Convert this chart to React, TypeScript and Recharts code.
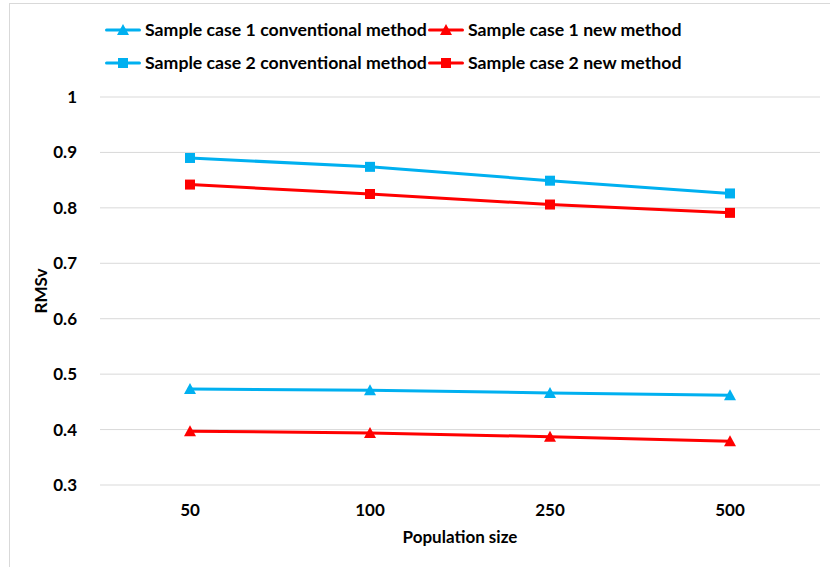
import { LineChart, Line, XAxis, YAxis, CartesianGrid, Label } from "recharts";

const populations = ["50", "100", "250", "500"];
const case1Conventional = [0.473, 0.471, 0.466, 0.462];
const case1New = [0.397, 0.394, 0.387, 0.379];
const case2Conventional = [0.89, 0.874, 0.849, 0.826];
const case2New = [0.842, 0.825, 0.806, 0.791];
const yTicks = [0.3, 0.4, 0.5, 0.6, 0.7, 0.8, 0.9, 1];

const BLUE = "#00B0F0";
const RED = "#FF0000";
const FONT = "Lato, 'Open Sans', sans-serif";
const axisFont = { fill: "#000", fontSize: 17, fontWeight: 700, fontFamily: FONT };

const data = populations.map((p, i) => ({
  pop: p,
  c1conv: case1Conventional[i],
  c1new: case1New[i],
  c2conv: case2Conventional[i],
  c2new: case2New[i],
}));

const Triangle = (props: any) => {
  const { cx, cy, stroke } = props;
  if (cx == null || cy == null) return null;
  return <path d={`M${cx},${cy - 6} L${cx + 6},${cy + 5} L${cx - 6},${cy + 5} Z`} fill={stroke} />;
};

const Square = (props: any) => {
  const { cx, cy, stroke } = props;
  if (cx == null || cy == null) return null;
  return <rect x={cx - 5} y={cy - 5} width={10} height={10} fill={stroke} />;
};

const legendItems = [
  { name: "Sample case 1 conventional method", color: BLUE, shape: "tri" },
  { name: "Sample case 1 new method", color: RED, shape: "tri" },
  { name: "Sample case 2 conventional method", color: BLUE, shape: "sq" },
  { name: "Sample case 2 new method", color: RED, shape: "sq" },
];

const LegendIcon = ({ color, shape }: { color: string; shape: string }) => (
  <svg width={36} height={14} style={{ marginRight: 4, flexShrink: 0 }}>
    <line x1={1.5} y1={7} x2={34.5} y2={7} stroke={color} strokeWidth={3} strokeLinecap="round" />
    {shape === "tri" ? (
      <path d="M18,1 L24,12 L12,12 Z" fill={color} />
    ) : (
      <rect x={13} y={2} width={10} height={10} fill={color} />
    )}
  </svg>
);

const ChartLegend = () => (
  <div
    style={{
      position: "absolute",
      left: 105,
      top: 19,
      display: "grid",
      gridTemplateColumns: "323px 300px",
      rowGap: 12,
      fontFamily: FONT,
      fontWeight: 700,
      fontSize: 17.7,
      lineHeight: "21px",
      color: "#000",
    }}
  >
    {legendItems.map((it) => (
      <div key={it.name} style={{ display: "flex", alignItems: "center", whiteSpace: "nowrap" }}>
        <LegendIcon color={it.color} shape={it.shape} />
        <span>{it.name}</span>
      </div>
    ))}
  </div>
);

export default function App() {
  return (
    <div style={{ position: "absolute", left: 0, top: 0, width: 830, height: 567, overflow: "hidden", background: "#fff" }}>
      <div
        style={{
          position: "absolute",
          left: 9,
          top: 3,
          width: 840,
          height: 580,
          border: "1px solid #d9d9d9",
        }}
      />
      <LineChart
        width={830}
        height={567}
        data={data}
        margin={{ top: 97, right: 10, bottom: 22, left: 0 }}
        style={{ position: "absolute", left: 0, top: 0 }}
      >
        <CartesianGrid vertical={false} stroke="#d9d9d9" />
        <XAxis
          dataKey="pop"
          axisLine={false}
          tickLine={false}
          tickMargin={13}
          height={60}
          padding={{ left: 90, right: 90 }}
          tick={axisFont}
        >
          <Label value="Population size" position="insideBottom" offset={2} style={axisFont} />
        </XAxis>
        <YAxis
          domain={[0.3, 1]}
          ticks={yTicks}
          axisLine={false}
          tickLine={false}
          tickMargin={17}
          width={100}
          interval={0}
          tick={axisFont}
        >
          <Label
            value="RMSv"
            angle={-90}
            position="insideLeft"
            offset={41}
            style={{ ...axisFont, textAnchor: "middle" }}
          />
        </YAxis>
        <Line dataKey="c1conv" stroke={BLUE} strokeWidth={3} dot={<Triangle />} activeDot={false} isAnimationActive={false} />
        <Line dataKey="c1new" stroke={RED} strokeWidth={3} dot={<Triangle />} activeDot={false} isAnimationActive={false} />
        <Line dataKey="c2conv" stroke={BLUE} strokeWidth={3} dot={<Square />} activeDot={false} isAnimationActive={false} />
        <Line dataKey="c2new" stroke={RED} strokeWidth={3} dot={<Square />} activeDot={false} isAnimationActive={false} />
      </LineChart>
      <ChartLegend />
    </div>
  );
}
